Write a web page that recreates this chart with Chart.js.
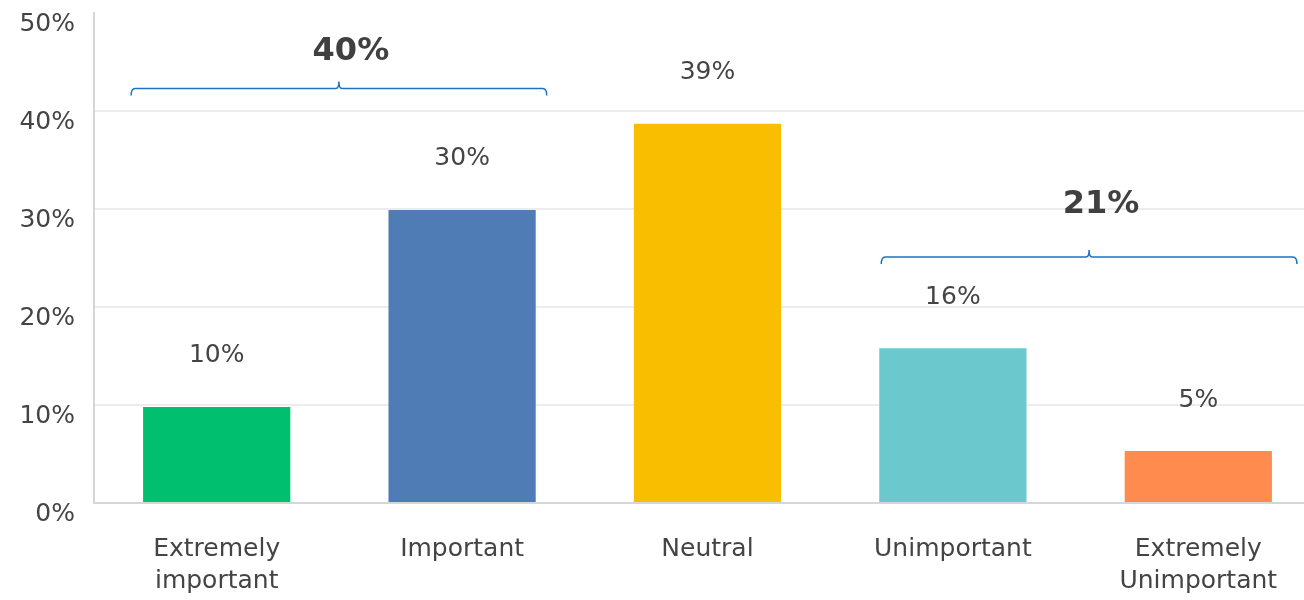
<!DOCTYPE html>
<html>
<head>
<meta charset="utf-8">
<script src="https://cdn.jsdelivr.net/npm/chart.js@4"></script>
<style>
    html, body { margin: 0; padding: 0; background: #fff; overflow: hidden; }
    #wrap { width: 1321px; height: 600px; }
</style>
</head>
<body>
<div id="wrap"><canvas id="importanceChart"></canvas></div>
<script>
// Survey answers, share of respondents (%)
const categories  = [['Extremely', 'important'], 'Important', 'Neutral', 'Unimportant', ['Extremely', 'Unimportant']];
const shares      = [9.8, 29.9, 38.7, 15.8, 5.3];
const yTickValues = [0, 10, 20, 30, 40, 50];

// Grouped totals shown over the brackets
const groupRanges = [[0, 1], [3, 4]];
const groupLabels = ['40%', '21%'];

const barColors = ['#00bf6f', '#507cb6', '#f9be00', '#6bc8cd', '#ff8b4f'];
const textGrey  = '#444444';
const font      = 'DejaVu Sans, sans-serif';

// value labels above each bar
const valueLabels = {
    id: 'valueLabels',
    afterDatasetsDraw(chart) {
        const ctx  = chart.ctx;
        const meta = chart.getDatasetMeta(0);
        ctx.save();
        ctx.font = '25px ' + font;
        ctx.fillStyle = textGrey;
        ctx.textAlign = 'center';
        ctx.textBaseline = 'middle';
        meta.data.forEach((bar, i) => {
            ctx.fillText(Math.round(shares[i]) + '%', bar.x, bar.y - 51);
        });
        ctx.restore();
    }
};

// curly-ish brackets over groups of bars
const groupBrackets = {
    id: 'groupBrackets',
    afterDatasetsDraw(chart, args, opts) {
        const ctx  = chart.ctx;
        const meta = chart.getDatasetMeta(0);
        const y    = chart.scales.y;
        ctx.save();
        groupRanges.forEach((range, g) => {
            const a  = meta.data[range[0]];
            const b  = meta.data[range[1]];
            const x0 = a.x - a.width / 2 - opts.pad[g][0];
            const x1 = b.x + b.width / 2 + opts.pad[g][1];
            const xm = (x0 + x1) / 2;
            const by = y.getPixelForValue(opts.level[g]);

            ctx.strokeStyle = '#1a73c8';
            ctx.lineWidth = 1.5;
            ctx.beginPath();
            ctx.moveTo(x0, by + 7);
            ctx.quadraticCurveTo(x0, by, x0 + 4, by);
            ctx.lineTo(xm - 3, by);
            ctx.quadraticCurveTo(xm, by, xm, by - 7);
            ctx.quadraticCurveTo(xm, by, xm + 3, by);
            ctx.lineTo(x1 - 4, by);
            ctx.quadraticCurveTo(x1, by, x1, by + 7);
            ctx.stroke();

            ctx.font = 'bold 32px ' + font;
            ctx.fillStyle = '#404040';
            ctx.textAlign = 'center';
            ctx.textBaseline = 'alphabetic';
            ctx.fillText(groupLabels[g], xm + 12, y.getPixelForValue(opts.textLevel[g]));
        });
        ctx.restore();
    }
};

const chart = new Chart(document.getElementById('importanceChart'), {
    type: 'bar',
    data: {
        labels: categories,
        datasets: [{
            data: shares,
            backgroundColor: barColors,
            borderWidth: 0,
            barPercentage: 0.6,
            categoryPercentage: 1
        }]
    },
    options: {
        responsive: true,
        maintainAspectRatio: false,
        animation: false,
        layout: { padding: { top: 13, right: 0, left: 0, bottom: 0 } },
        plugins: {
            legend: { display: false },
            tooltip: { enabled: false },
            groupBrackets: {
                pad: [[12, 11], [-2, 25]],
                level: [42.3, 25.1],
                textLevel: [45.2, 29.6]
            }
        },
        scales: {
            x: {
                grid: { display: false, drawTicks: false },
                border: { display: true, color: '#d6d6d6', width: 2 },
                ticks: {
                    color: textGrey,
                    font: { family: font, size: 25, lineHeight: 1.3 },
                    padding: 30,
                    maxRotation: 0,
                    autoSkip: false
                },
                afterFit: s => { s.height = 97; s.paddingLeft = 0; s.paddingRight = 0; }
            },
            y: {
                min: 0,
                max: 50,
                afterBuildTicks: s => { s.ticks = yTickValues.map(v => ({ value: v })); },
                grid: {
                    drawTicks: false,
                    lineWidth: 2,
                    color: c => (c.tick.value === 0 || c.tick.value === 50) ? 'rgba(0,0,0,0)' : '#ececec'
                },
                border: { display: true, color: '#d6d6d6', width: 2 },
                ticks: {
                    color: textGrey,
                    font: { family: font, size: 25 },
                    padding: 19,
                    labelOffset: 11,
                    callback: v => v + '%'
                },
                afterFit: s => { s.width = 94; s.paddingTop = 0; s.paddingBottom = 0; }
            }
        }
    },
    plugins: [valueLabels, groupBrackets]
});
</script>
</body>
</html>
